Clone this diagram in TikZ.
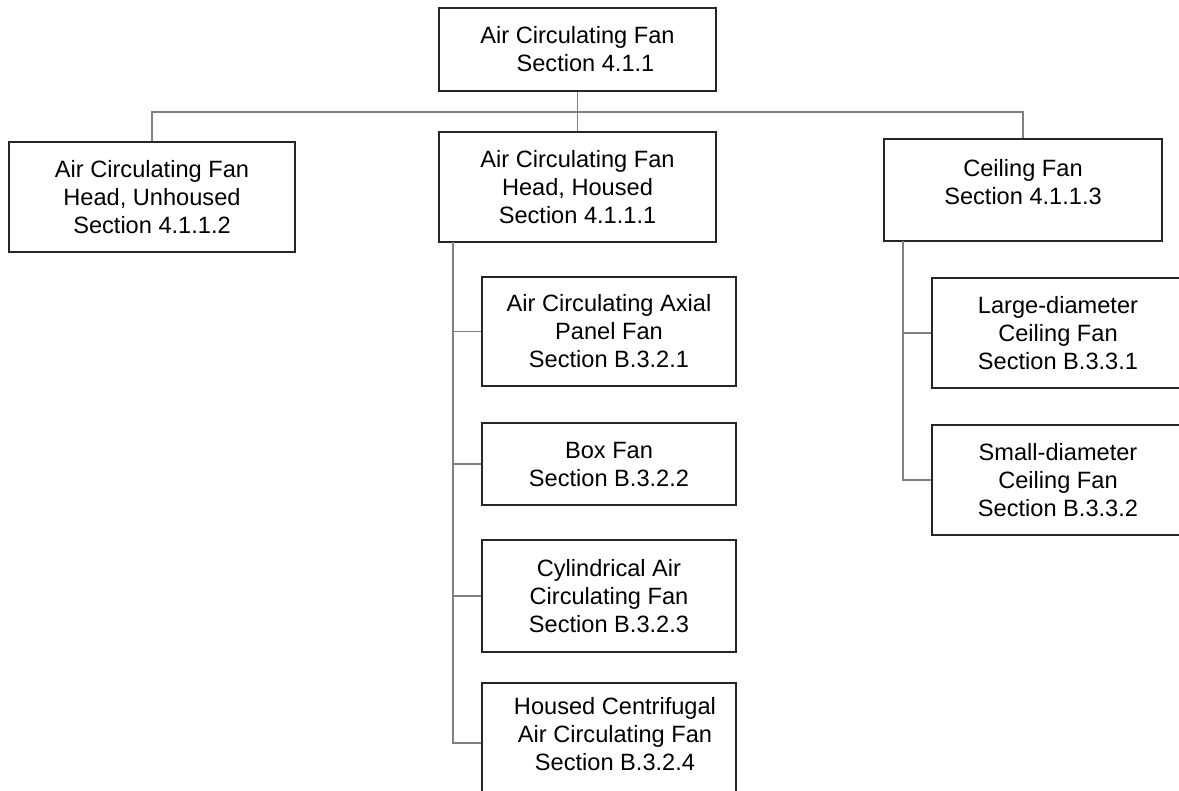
\documentclass[tikz,border=0pt]{standalone}
\usepackage{fontspec}
\setmainfont{Liberation Sans}
\begin{document}
\begin{tikzpicture}[x=1pt,y=-1pt,
  box/.style={draw=black!85,line width=1.3pt,align=center,inner sep=0pt,
    font=\fontsize{23.6}{28}\selectfont},
  conn/.style={draw=black!50,line width=1.3pt}]
\useasboundingbox (0,0) rectangle (1179,791);
\clip (0,0) rectangle (1179,791);
\node[box,minimum width=277pt,minimum height=83pt] (top) at (577.5,49.5)
  {Air Circulating Fan\\\hspace*{16pt}Section 4.1.1};
\node[box,minimum width=286pt,minimum height=110pt] (left) at (152,197)
  {Air Circulating Fan\\Head, Unhoused\\Section 4.1.1.2};
\node[box,minimum width=277pt,minimum height=110pt] (mid) at (577.5,187)
  {Air Circulating Fan\\Head, Housed\\Section 4.1.1.1};
\node[box,minimum width=278pt,minimum height=102pt] (right) at (1023,190)
  {Ceiling Fan\\Section 4.1.1.3\rule[-16pt]{0pt}{0pt}};
\node[box,minimum width=254pt,minimum height=109pt] (c1) at (609,331.5)
  {Air Circulating Axial\\Panel Fan\\Section B.3.2.1};
\node[box,minimum width=254pt,minimum height=82pt] (c2) at (609,464)
  {Box Fan\\Section B.3.2.2};
\node[box,minimum width=254pt,minimum height=112pt] (c3) at (609,596)
  {Cylindrical Air\\Circulating Fan\\Section B.3.2.3};
\node[box,minimum width=254pt,minimum height=120pt] (c4) at (609,743)
  {\hspace*{12pt}Housed Centrifugal\\\hspace*{12pt}Air Circulating Fan\\\hspace*{12pt}Section B.3.2.4\rule[-19pt]{0pt}{0pt}};
\node[box,minimum width=252pt,minimum height=110pt] (r1) at (1058,333)
  {Large-diameter\\Ceiling Fan\\Section B.3.3.1};
\node[box,minimum width=252pt,minimum height=110pt] (r2) at (1058,480)
  {Small-diameter\\Ceiling Fan\\Section B.3.3.2};
\coordinate (bus) at (577.5,112);
\coordinate (mt) at (453,242);
\coordinate (rt) at (903,241);
\draw[conn] (top.south) -- (mid.north);
\draw[conn] (left.north) |- (bus) -| (right.north);
\draw[conn] (mt) |- (c4.west);
\draw[conn] (mt) |- (c1.west);
\draw[conn] (mt) |- (c2.west);
\draw[conn] (mt) |- (c3.west);
\draw[conn] (rt) |- (r2.west);
\draw[conn] (rt) |- (r1.west);
\end{tikzpicture}
\end{document}
